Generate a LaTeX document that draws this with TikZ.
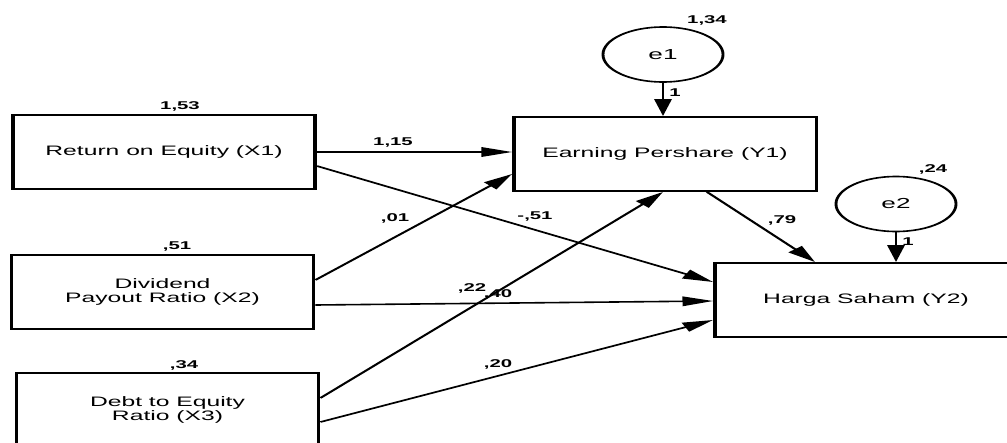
\documentclass[tikz,border=0pt]{standalone}
\usepackage{fontspec}
\setmainfont{Liberation Sans}
\usetikzlibrary{arrows.meta,calc,shapes.geometric}
\tikzset{
  varbox/.style={draw, line width=1.9pt, minimum width=168pt, minimum height=74pt,
    inner sep=0pt, align=center, font=\fontsize{13.7}{14}\selectfont},
  errc/.style={draw, ellipse, line width=1.6pt, minimum width=66.7pt, minimum height=55pt,
    inner sep=0pt, font=\fontsize{14.5}{16}\selectfont},
  arr/.style={line width=1.6pt, -{Triangle[length=17pt,width=9.5pt]}},
  est/.style={font=\bfseries\fontsize{11.3}{12}\selectfont, inner sep=0pt},
}
\begin{document}
\begin{tikzpicture}
\useasboundingbox (0,0) rectangle (1007pt,-442pt);
\clip (0,0) rectangle (1007pt,-442pt);
\fill[white] (0,0) rectangle (1007pt,-442pt);
\begin{scope}[transform canvas={xscale=1.8}, x=0.55556pt, y=-1pt]
  % variables
  \node[varbox] (X1) at (164,152) {Return on Equity (X1)};
  \node[varbox] (X2) at (162.5,292) {Dividend\\Payout Ratio (X2)};
  \node[varbox] (X3) at (167.5,410) {Debt to Equity\\Ratio (X3)};
  \node[varbox] (Y1) at (665,154) {Earning Pershare (Y1)};
  \node[varbox] (Y2) at (866,300) {Harga Saham (Y2)};
  \node[errc] (e1) at (663,54.5) {e1};
  \node[errc] (e2) at (896,204) {e2};
  % paths
  \draw[arr] (X1.east) -- (X1.east -| Y1.west);
  \draw[arr] ([yshift=-14pt]X1.east) -- ([yshift=18pt]Y2.west);
  \draw[arr] ([yshift=12pt]X2.east) -- ([yshift=-20pt]Y1.west);
  \draw[arr] ([yshift=-13pt]X2.east) -- ([yshift=-1pt]Y2.west);
  \draw[arr] ([yshift=12pt]X3.east) -- ($(Y1.south)+(-2,0)$);
  \draw[arr] ([yshift=-12pt]X3.east) -- ([yshift=-20pt]Y2.west);
  \draw[arr] ($(Y1.south)+(42,0)$) -- ($(Y2.north)+(-51,0)$);
  \draw[arr] (e1.south) -- (e1.south |- Y1.north);
  \draw[arr] (e2.south) -- (e2.south |- Y2.north);
  % estimates
  \node[est] (v1) at (180,106) {1,53};
  \node[est] (v2) at (177,246) {,51};
  \node[est] (v3) at (184,365) {,34};
  \node[est] (v4) at (707,20) {1,34};
  \node[est] (v5) at (933,169) {,24};
  \node[est] (p1) at (393,142) {1,15};
  \node[est] (p2) at (535,216) {-,51};
  \node[est] (p3) at (395,218) {,01};
  \node[est] (p4) at (472,288) {,22};
  \node[est] (p5) at (498,294) {,40};
  \node[est] (p6) at (498,364) {,20};
  \node[est] (p7) at (782,220) {,79};
  \node[est] (p8) at (675,93) {1};
  \node[est] (p9) at (908,242) {1};
\end{scope}
\end{tikzpicture}
\end{document}
